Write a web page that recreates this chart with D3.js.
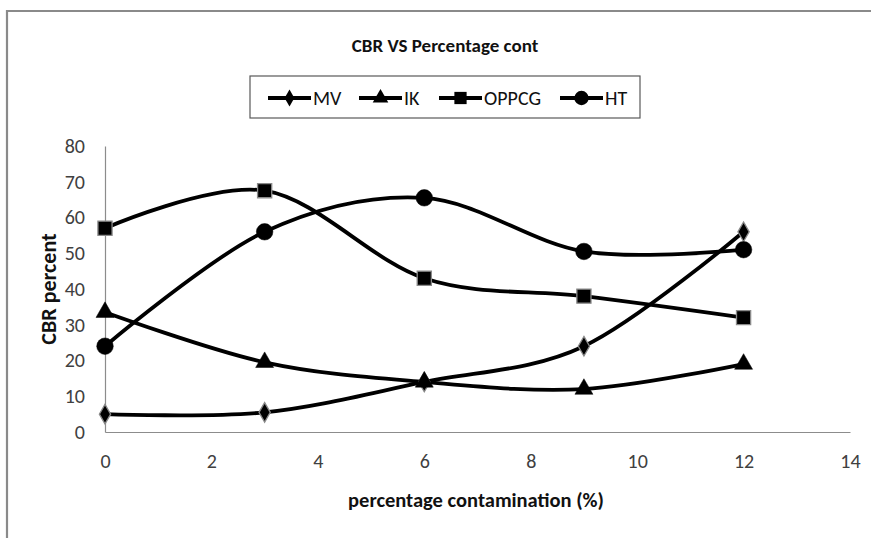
<!DOCTYPE html>
<html>
<head>
<meta charset="utf-8">
<script src="https://cdn.jsdelivr.net/npm/d3@7"></script>
<style>
html,body{margin:0;padding:0;background:#fff;}
svg{display:block;}
</style>
</head>
<body>
<svg id="chart" width="871" height="538"></svg>
<script>
const xValues = [0, 3, 6, 9, 12];
const seriesNames = ["MV", "IK", "OPPCG", "HT"];
const mvValues = [5, 5.5, 14, 24, 56];
const ikValues = [33.5, 19.5, 14, 12, 19];
const oppcgValues = [57, 67.5, 43, 38, 32];
const htValues = [24, 56, 65.5, 50.5, 51];
const xTicks = [0, 2, 4, 6, 8, 10, 12, 14];
const yTicks = [0, 10, 20, 30, 40, 50, 60, 70, 80];
const titleText = "CBR VS Percentage cont";
const xTitle = "percentage contamination (%)";
const yTitle = "CBR percent";

const markers = { MV: d3.symbolDiamond, IK: d3.symbolTriangle, OPPCG: d3.symbolSquare, HT: d3.symbolCircle };
const markerSize = { MV: 110, IK: 140, OPPCG: 200, HT: 215 };
const seriesData = [mvValues, ikValues, oppcgValues, htValues];

const font = "Carlito, Lato, 'Open Sans', sans-serif";
const svg = d3.select("#chart");

// outer frame
svg.append("path").attr("d", "M7,538 V11 H871")
  .attr("fill", "none").attr("stroke", "#8a8a8a").attr("stroke-width", 2.2);

const x = d3.scaleLinear().domain([0, 14]).range([105, 850]);
const y = d3.scaleLinear().domain([0, 80]).range([432, 146]);

// axes
const xAxis = svg.append("g").attr("transform", `translate(0,${y(0)})`)
  .call(d3.axisBottom(x).tickValues(xTicks).tickSize(0).tickPadding(26).tickFormat(d3.format("d")));
const yAxis = svg.append("g").attr("transform", `translate(${x(0)},0)`)
  .call(d3.axisLeft(y).tickValues(yTicks).tickSize(0).tickPadding(20).tickFormat(d3.format("d")));
[xAxis, yAxis].forEach(a => {
  a.select(".domain").attr("stroke", "#8c8c8c").attr("stroke-width", 1.2);
  a.selectAll("text").attr("font-family", font).attr("font-size", 20).attr("fill", "#404040");
});
xAxis.selectAll("text").attr("dy", "0.5em");

// title
svg.append("text").attr("x", 445).attr("y", 52).attr("text-anchor", "middle")
  .attr("font-family", font).attr("font-weight", "bold").attr("font-size", 19).attr("fill", "#111")
  .text(titleText);

// axis titles
svg.append("text").attr("x", 476).attr("y", 507).attr("text-anchor", "middle")
  .attr("font-family", font).attr("font-weight", "bold").attr("font-size", 20.5).attr("fill", "#111")
  .text(xTitle);
svg.append("text").attr("transform", `translate(56,${(y(0) + y(80)) / 2}) rotate(-90)`)
  .attr("text-anchor", "middle").attr("font-family", font).attr("font-weight", "bold")
  .attr("font-size", 22).attr("fill", "#111").text(yTitle);

// lines
const line = d3.line().x((d, i) => x(xValues[i])).y(d => y(d)).curve(d3.curveCatmullRom.alpha(0));
seriesData.forEach((vals) => {
  svg.append("path").datum(vals).attr("d", line)
    .attr("fill", "none").attr("stroke", "#000").attr("stroke-width", 3.8);
});
seriesData.forEach((vals, si) => {
  const name = seriesNames[si];
  svg.selectAll(null).data(vals).enter().append("path")
    .attr("transform", (d, i) => `translate(${x(xValues[i])},${y(d)})`)
    .attr("d", d3.symbol().type(markers[name]).size(markerSize[name]))
    .attr("fill", "#000")
    .attr("stroke", name === "OPPCG" || name === "MV" ? "#8a8a8a" : "#000")
    .attr("stroke-width", name === "OPPCG" || name === "MV" ? 1.3 : 0.5);
});

// legend
svg.append("rect").attr("x", 250).attr("y", 76).attr("width", 390).attr("height", 42)
  .attr("fill", "#fff").attr("stroke", "#595959").attr("stroke-width", 1.2);
const legendX = [268, 359, 439, 560];
seriesNames.forEach((name, i) => {
  const g = svg.append("g").attr("transform", `translate(${legendX[i]},98)`);
  g.append("line").attr("x1", 0).attr("x2", 43).attr("y1", 0).attr("y2", 0)
    .attr("stroke", "#000").attr("stroke-width", 3.8);
  g.append("path").attr("transform", "translate(21.5,0)")
    .attr("d", d3.symbol().type(markers[name]).size(markerSize[name] * 0.75))
    .attr("fill", "#000");
  g.append("text").attr("x", 45).attr("y", 0).attr("dy", "0.36em")
    .attr("font-family", font).attr("font-size", 20).attr("fill", "#111").text(name);
});
</script>
</body>
</html>
